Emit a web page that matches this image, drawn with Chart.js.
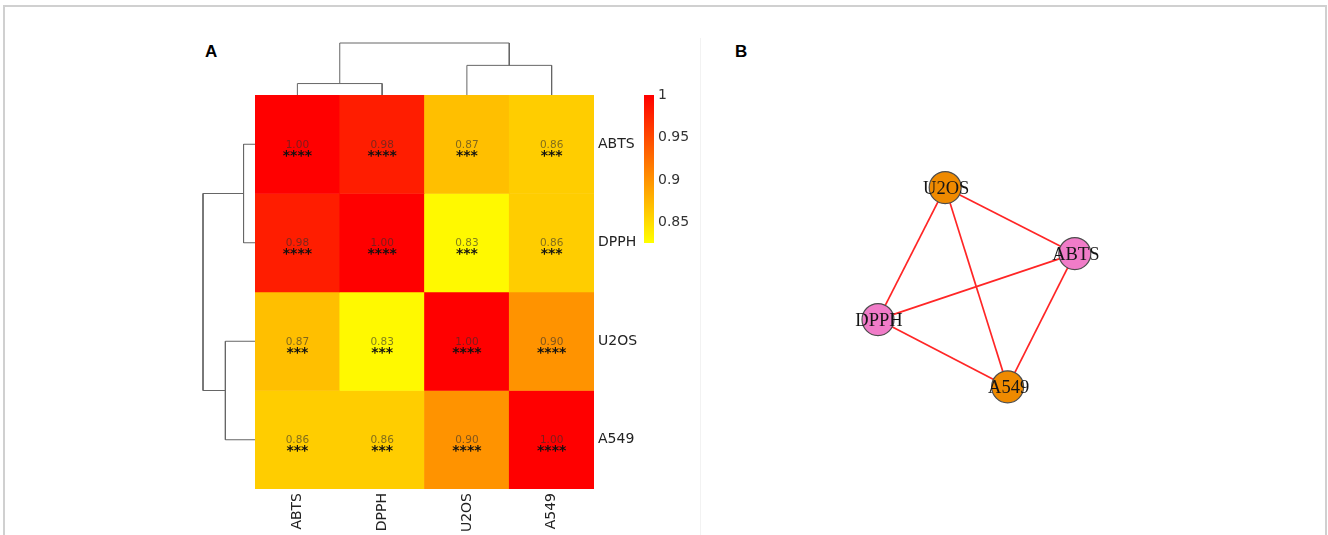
<!DOCTYPE html>
<html>
<head>
<meta charset="utf-8">
<script src="https://cdn.jsdelivr.net/npm/chart.js@4/dist/chart.umd.min.js"></script>
<style>
  html, body { margin: 0; padding: 0; background: #fff; width: 1328px; height: 535px; overflow: hidden; position: relative; }
  .frame { position: absolute; left: 3px; top: 5px; width: 1320px; height: 600px; border: 2px solid #d0d0d0; border-bottom: none; }
  .divider { position: absolute; left: 700px; top: 38px; width: 1px; height: 497px; background: #f2f2f2; }
  .tag { position: absolute; top: 43px; font: bold 17px "Liberation Sans", Arial, sans-serif; line-height: 17px; color: #000; }
  canvas { position: absolute; }
</style>
</head>
<body>
<div class="frame"></div>
<div class="divider"></div>
<div class="tag" style="left:205px">A</div>
<div class="tag" style="left:735px">B</div>

<canvas id="dendTop" width="339" height="56" style="left:255px;top:39px"></canvas>
<canvas id="dendLeft" width="56" height="394" style="left:199px;top:95px"></canvas>
<canvas id="heat" width="410" height="440" style="left:255px;top:95px"></canvas>
<canvas id="scale" width="70" height="168" style="left:644px;top:85px"></canvas>
<canvas id="net" width="300" height="300" style="left:830px;top:130px"></canvas>

<script>
// ---- correlation matrix (rows and columns in clustered order) ----
const rows = ['ABTS', 'DPPH', 'U2OS', 'A549'];
const cols = ['ABTS', 'DPPH', 'U2OS', 'A549'];

const corABTS = [1.00, 0.98, 0.87, 0.86];
const corDPPH = [0.98, 1.00, 0.83, 0.86];
const corU2OS = [0.87, 0.83, 1.00, 0.90];
const corA549 = [0.86, 0.86, 0.90, 1.00];

const sigABTS = ['****', '****', '***', '***'];
const sigDPPH = ['****', '****', '***', '***'];
const sigU2OS = ['***', '***', '****', '****'];
const sigA549 = ['***', '***', '****', '****'];

// colour key
const scaleMin = 0.826;
const scaleMax = 1;
const scaleTicks = [0.85, 0.9, 0.95, 1];

// hierarchical clustering (hclust-style merge table: negative = leaf, positive = earlier merge)
const mergeA = [-1, -3, 1];
const mergeB = [-2, -4, 2];
const mergeHeight = [0.22, 0.57, 1.0];

// ---- network ----
const nodeNames = ['U2OS', 'ABTS', 'DPPH', 'A549'];
const nodeX = [-0.29, 0.79, -0.85, 0.23];
const nodeY = [0.77, 0.22, -0.33, -0.89];
const nodeGroup = ['cell', 'assay', 'assay', 'cell'];
const edgeFrom = ['U2OS', 'U2OS', 'U2OS', 'ABTS', 'ABTS', 'DPPH'];
const edgeTo   = ['ABTS', 'DPPH', 'A549', 'DPPH', 'A549', 'A549'];

const corr = [corABTS, corDPPH, corU2OS, corA549];
const sig = [sigABTS, sigDPPH, sigU2OS, sigA549];

Chart.defaults.font.family = '"DejaVu Sans", sans-serif';
Chart.defaults.animation = false;

function heatColour(v) {
  const t = Math.max(0, Math.min(1, (v - scaleMin) / (scaleMax - scaleMin)));
  return 'rgb(255,' + Math.round(255 * (1 - t)) + ',0)';
}

const noChrome = { legend: { display: false }, tooltip: { enabled: false } };

// ---------- heatmap ----------
const cellLabels = {
  id: 'cellLabels',
  afterDatasetsDraw(chart) {
    const ctx = chart.ctx;
    chart.data.datasets.forEach((ds, i) => {
      chart.getDatasetMeta(i).data.forEach((bar, j) => {
        const c = bar.getCenterPoint();
        ctx.save();
        ctx.textAlign = 'center';
        ctx.textBaseline = 'alphabetic';
        ctx.fillStyle = 'rgba(45,45,45,0.6)';
        ctx.font = '10.5px "DejaVu Sans"';
        ctx.fillText(corr[i][j].toFixed(2), c.x, c.y + 3.3);
        ctx.fillStyle = '#111';
        ctx.font = 'bold 14px "DejaVu Sans"';
        ctx.fillText(sig[i][j], c.x, c.y + 15.5);
        ctx.restore();
      });
    });
  }
};

new Chart(document.getElementById('heat'), {
  type: 'bar',
  data: {
    labels: cols,
    datasets: rows.map((r, i) => ({
      label: r,
      data: cols.map(() => [i, i + 1]),
      backgroundColor: corr[i].map(heatColour),
      borderWidth: 0,
      barPercentage: 1,
      categoryPercentage: 1,
      grouped: false
    }))
  },
  options: {
    responsive: false,
    layout: { padding: 0 },
    plugins: noChrome,
    scales: {
      x: {
        grid: { display: false, drawTicks: false },
        border: { display: false },
        ticks: { autoSkip: false, minRotation: 90, maxRotation: 90, padding: 4, color: '#222', font: { size: 14 } },
        afterFit(s) { s.height = 46; s.paddingLeft = 0; s.paddingRight = 0; }
      },
      y: {
        position: 'right',
        min: 0, max: rows.length, reverse: true,
        grid: { display: false, drawTicks: false },
        border: { display: false },
        ticks: { autoSkip: false, padding: 4, color: '#222', font: { size: 14 }, callback: (v, i) => rows[i] },
        afterBuildTicks(s) { s.ticks = rows.map((r, i) => ({ value: i + 0.5 })); },
        afterFit(s) { s.width = 71; s.paddingTop = 0; s.paddingBottom = 0; }
      }
    }
  },
  plugins: [cellLabels]
});

// ---------- colour key ----------
new Chart(document.getElementById('scale'), {
  type: 'bar',
  data: {
    labels: [''],
    datasets: [{
      data: [[scaleMin, scaleMax]],
      borderWidth: 0,
      barPercentage: 1,
      categoryPercentage: 1,
      backgroundColor(ctx) {
        const ch = ctx.chart;
        if (!ch.chartArea) return heatColour((scaleMin + scaleMax) / 2);
        const ys = ch.scales.y;
        const g = ch.ctx.createLinearGradient(0, ys.getPixelForValue(scaleMin), 0, ys.getPixelForValue(scaleMax));
        g.addColorStop(0, heatColour(scaleMin));
        g.addColorStop(1, heatColour(scaleMax));
        return g;
      }
    }]
  },
  options: {
    responsive: false,
    layout: { padding: { top: 10, bottom: 10, left: 0, right: 0 } },
    plugins: noChrome,
    scales: {
      x: { display: false },
      y: {
        position: 'right',
        min: scaleMin, max: scaleMax,
        grid: { display: false, drawTicks: false },
        border: { display: false },
        ticks: { padding: 4, color: '#333', font: { size: 14 }, callback: v => String(v) },
        afterBuildTicks(s) { s.ticks = scaleTicks.map(v => ({ value: v })); },
        afterFit(s) { s.width = 60; s.paddingTop = 0; s.paddingBottom = 0; }
      }
    }
  }
});

// ---------- dendrograms ----------
function dendroBrackets() {
  const pos = [], ht = [], out = [];
  const node = k => k < 0 ? { p: -k - 0.5, h: 0 } : { p: pos[k - 1], h: ht[k - 1] };
  mergeHeight.forEach((h, m) => {
    const a = node(mergeA[m]), b = node(mergeB[m]);
    out.push([[a.p, a.h], [a.p, h], [b.p, h], [b.p, b.h]]);
    pos.push((a.p + b.p) / 2);
    ht.push(h);
  });
  return out;
}
const brackets = dendroBrackets();
const dendroStyle = { showLine: true, borderColor: '#666', borderWidth: 1, pointRadius: 0, clip: false, fill: false };

new Chart(document.getElementById('dendTop'), {
  type: 'scatter',
  data: { datasets: brackets.map(b => Object.assign({ data: b.map(([p, h]) => ({ x: p, y: h })) }, dendroStyle)) },
  options: {
    responsive: false,
    layout: { autoPadding: false, padding: { top: 4, bottom: 0, left: 0, right: 0 } },
    plugins: noChrome,
    scales: {
      x: { display: false, min: 0, max: cols.length },
      y: { display: false, min: 0, max: 1 }
    }
  }
});

new Chart(document.getElementById('dendLeft'), {
  type: 'scatter',
  data: { datasets: brackets.map(b => Object.assign({ data: b.map(([p, h]) => ({ x: h, y: p })) }, dendroStyle)) },
  options: {
    responsive: false,
    layout: { autoPadding: false, padding: { top: 0, bottom: 0, left: 4, right: 0 } },
    plugins: noChrome,
    scales: {
      x: { display: false, min: 0, max: 1, reverse: true },
      y: { display: false, min: 0, max: rows.length, reverse: true }
    }
  }
});

// ---------- network ----------
const groupColour = { cell: '#ef8a00', assay: '#f07cc8' };
const nodeIndex = n => nodeNames.indexOf(n);

const nodeLabels = {
  id: 'nodeLabels',
  afterDatasetsDraw(chart) {
    const ctx = chart.ctx;
    const meta = chart.getDatasetMeta(0);
    ctx.save();
    ctx.font = '18.5px "Liberation Serif", "DejaVu Serif", serif';
    ctx.fillStyle = '#151515';
    ctx.textAlign = 'center';
    ctx.textBaseline = 'alphabetic';
    meta.data.forEach((pt, i) => ctx.fillText(nodeNames[i], pt.x + 1, pt.y + 6.5));
    ctx.restore();
  }
};

new Chart(document.getElementById('net'), {
  type: 'scatter',
  data: {
    datasets: [
      {
        data: nodeNames.map((n, i) => ({ x: nodeX[i], y: nodeY[i] })),
        pointRadius: 16,
        pointBackgroundColor: nodeGroup.map(g => groupColour[g]),
        pointBorderColor: '#4d4d4d',
        pointBorderWidth: 1.2,
        order: 0,
        clip: false
      },
      ...edgeFrom.map((f, k) => ({
        data: [
          { x: nodeX[nodeIndex(f)], y: nodeY[nodeIndex(f)] },
          { x: nodeX[nodeIndex(edgeTo[k])], y: nodeY[nodeIndex(edgeTo[k])] }
        ],
        showLine: true,
        borderColor: '#ff2626',
        borderWidth: 1.7,
        pointRadius: 0,
        order: 1,
        clip: false
      }))
    ]
  },
  options: {
    responsive: false,
    layout: { autoPadding: false, padding: 0 },
    plugins: noChrome,
    scales: {
      x: { display: false, min: -1.25, max: 1.25 },
      y: { display: false, min: -1.25, max: 1.25 }
    }
  },
  plugins: [nodeLabels]
});
</script>
</body>
</html>
